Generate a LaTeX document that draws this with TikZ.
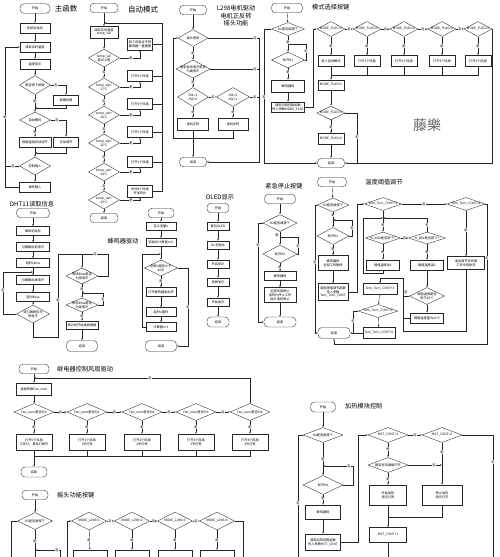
\documentclass[tikz,border=0pt]{standalone}
\usepackage{fontspec}
\setmainfont{Noto Sans CJK SC}
\usetikzlibrary{shapes.geometric,arrows.meta}
\newcommand\ft{\fontsize{3.2}{3.8}\selectfont}
\newcommand\Dmd[6]{\node[dia,minimum width=#4pt,minimum height=#5pt] (#1) at (#2,#3) {};\node[txt] (#1t) at (#1.center) {#6};}
\begin{document}
\begin{tikzpicture}[x=1pt,y=-1pt,
  nb/.style={draw=black!85, line width=0.35pt, fill=white, font=\ft, align=center, inner sep=0.4pt},
  term/.style={nb, rectangle, rounded corners=4pt, minimum width=#1, minimum height=9.5pt},
  term/.default=30pt,
  pbox/.style={nb, rectangle, minimum width=#1, minimum height=10pt},
  pbox/.default=30pt,
  dia/.style={nb, diamond, inner sep=0pt},
  txt/.style={font=\ft, align=center, inner sep=0pt},
  lab/.style={font=\ft, fill=white, inner sep=0.3pt},
  ar/.style={draw=black!85, line width=0.35pt, -{Latex[length=2pt,width=1.6pt]}},
  ln/.style={draw=black!85, line width=0.35pt},
  ttl/.style={font=\fontsize{6.2}{7.5}\selectfont, inner sep=0pt, align=center},
  bigttl/.style={font=\fontsize{7.5}{9}\selectfont, inner sep=0pt}]
\fill[white] (0,0) rectangle (500,557);
\useasboundingbox (0,0) rectangle (500,557);

% ================= 主函数 =================
\node[term=30pt] (m0) at (35,8.5) {开始};
\node[bigttl] (mT) at (66,9) {主函数};
\node[pbox=30pt] (m1) at (35,28) {系统初始化};
\node[pbox=30pt] (m2) at (35,47) {读取实时温度};
\node[pbox=30pt] (m3) at (35,64) {温度显示};
\Dmd{m4}{35}{85}{31}{19}{是否按下按键}
\node[pbox=25pt] (m5) at (66,100) {按键处理};
\Dmd{m6}{35}{120}{31}{16}{自动模式}
\node[pbox=32pt] (m7) at (35,142) {根据温度自动调节};
\node[pbox=25pt] (m8) at (66,142) {手动调节};
\Dmd{m9}{35}{166}{31}{18}{控制输入}
\node[pbox=31pt] (m10) at (35,187) {操作输入};
\coordinate (mj1) at (35,108);
\coordinate (mj2) at (35,153);
\draw[ar] (m0) -- (m1);
\draw[ar] (m1) -- (m2);
\draw[ar] (m2) -- (m3);
\draw[ar] (m3) -- (m4);
\draw[ar] (m4.east) -| (m5.north);
\draw[ar] (m4.south) -- (m6.north);
\draw[ar] (m5.south) |- (mj1);
\draw[ar] (m6.east) -| (m8.north);
\draw[ar] (m6.south) -- (m7.north);
\draw[ar] (m7.south) -- (m9.north);
\draw[ar] (m8.south) |- (mj2);
\draw[ar] (m9.south) -- (m10.north);
\draw[ln] (m9.west) -- (5,166);
\draw[ar] (m10.west) -| (5,47) -- (m2.west);
\node[lab] (q1) at (56,85) {否};
\node[lab] (q2) at (35,101) {是};
\node[lab] (q3) at (57,120) {否};
\node[lab] (q4) at (35,132.5) {是};
\node[lab] (q5) at (13,166) {否};
\node[lab] (q6) at (5,117) {是};

% ================= 自动模式 =================
\node[term=28pt] (a0) at (104,8) {开始};
\node[bigttl] (aT) at (143,10) {自动模式};
\node[pbox=28pt,minimum height=12pt] (a1) at (104,32) {读取实时温度\\temp\_val};
\Dmd{ad1}{104}{58}{31}{18}{temp\_val\\超过上限}
\Dmd{ad2}{104}{87}{31}{18}{temp\_val>\\27℃}
\Dmd{ad3}{104}{115}{31}{18}{temp\_val>\\26℃}
\Dmd{ad4}{104}{143}{31}{18}{temp\_val>\\25℃}
\Dmd{ad5}{104}{172}{31}{18}{temp\_val>\\24℃}
\Dmd{ad6}{104}{200}{31}{18}{temp\_val<\\23℃}
\node[term=28pt] (aE) at (104,218) {结束};
\node[pbox=25pt,minimum height=12pt] (ab1) at (140,44) {四个风扇全不转\\蜂鸣器一直报警};
\node[pbox=25pt,minimum height=11pt] (ab2) at (140,76) {打开4个风扇};
\node[pbox=25pt,minimum height=11pt] (ab3) at (140,104) {打开3个风扇};
\node[pbox=25pt,minimum height=11pt] (ab4) at (140,132) {打开2个风扇};
\node[pbox=25pt,minimum height=11pt] (ab5) at (140,162) {打开1个风扇};
\node[pbox=25pt,minimum height=12pt] (ab6) at (140,191) {关闭4个风扇\\开加热片};
\coordinate (aj) at (104,23);
\draw[ar] (a0) -- (a1);
\draw[ar] (a1) -- (ad1);
\draw[ar] (ad1) -- (ad2);
\draw[ar] (ad2) -- (ad3);
\draw[ar] (ad3) -- (ad4);
\draw[ar] (ad4) -- (ad5);
\draw[ar] (ad5) -- (ad6);
\draw[ar] (ad6) -- (aE);
\draw[ar] (ad1.east) -| (ab1.south);
\draw[ar] (ad2.east) -| (ab2.south);
\draw[ar] (ad3.east) -| (ab3.south);
\draw[ar] (ad4.east) -| (ab4.south);
\draw[ar] (ad5.east) -| (ab5.south);
\draw[ar] (ad6.east) -| (ab6.south);
\draw[ln] (ab1.east) -- (162,44);
\draw[ln] (ab2.east) -- (162,76);
\draw[ln] (ab3.east) -- (162,104);
\draw[ln] (ab4.east) -- (162,132);
\draw[ln] (ab5.east) -- (162,162);
\draw[ar] (ab6.east) -| (162,23) -- (aj);
\foreach \yy/\nm in {58/a,87/b,115/c,143/d,172/e,200/f} {\node[lab] (qa\nm) at (131,\yy) {是};}
\foreach \yy/\nm in {72.5/a,101/b,129/c,157.5/d,186/e} {\node[lab] (qb\nm) at (104,\yy) {否};}

% ================= L298 =================
\node[term=27pt] (l0) at (193,10) {开始};
\node[ttl] (lT) at (236,16) {L298电机驱动\\电机正反转\\摇头功能};
\Dmd{ld1}{193}{38}{30}{17}{摇头使用}
\Dmd{ld2}{193}{69}{34}{18}{电机驱动电平是否\\为高电平}
\Dmd{ld3}{193}{97}{31}{19}{IN1=1\\IN2=0}
\Dmd{ld4}{233}{97}{33}{19}{IN1=0\\IN2=1}
\node[pbox=31pt,minimum height=12pt] (lb1) at (193,124) {电机正转};
\node[pbox=30pt,minimum height=12pt] (lb2) at (233,124) {电机反转};
\node[term=27pt] (lE) at (193,162) {结束};
\draw[ar] (l0) -- (ld1);
\draw[ar] (ld1) -- (ld2);
\draw[ar] (ld2) -- (ld3);
\draw[ar] (ld3) -- (ld4);
\draw[ar] (ld3) -- (lb1);
\draw[ar] (ld4) -- (lb2);
\draw[ar] (lb1) -- (lE);
\draw[ln] (ld2.east) -- (259,69);
\draw[ln] (ld4.east) -- (259,97);
\draw[ar] (ld1.east) -| (259,162) -- (lE.east);
\draw[ar] (lb2.south) |- (173,138) |- (ld1.west);
\node[lab] (ql1) at (193,53) {是};
\node[lab] (ql2) at (193,82) {是};
\node[lab] (ql3) at (213,97) {否};
\node[lab] (ql4) at (193,112) {是};
\node[lab] (ql5) at (233,112) {是};
\node[lab] (ql6) at (255,38) {否};
\node[lab] (ql7) at (255,69) {否};
\node[lab] (ql8) at (255,97) {否};

% ================= 模式选择按键 =================
\node[term=31pt] (s0) at (287,8) {开始};
\node[ttl,anchor=west] (sT) at (312,7) {模式选择按键};
\Dmd{sd1}{288}{29}{33}{13}{K1是否被按下}
\Dmd{sd2}{288}{60}{33}{16}{松开K1}
\node[pbox=33pt,minimum height=12pt] (sb1) at (288,86) {蜂鸣器响};
\node[pbox=33pt,minimum height=10pt] (sb2) at (288,107) {调用风扇控制函数\\传入参数MODE\_FLAG};
\Dmd{sr0}{331}{29}{28}{15}{MODE\_FLAG=0}
\Dmd{sr1}{367}{29}{28}{15}{MODE\_FLAG=1}
\Dmd{sr2}{404}{29}{28}{15}{MODE\_FLAG=2}
\Dmd{sr3}{442}{29}{28}{15}{MODE\_FLAG=3}
\Dmd{sr4}{478}{29}{28}{15}{MODE\_FLAG=4}
\node[pbox=26pt,minimum height=11pt] (sq0) at (331,61) {进入自动模式};
\node[pbox=26pt,minimum height=11pt] (sq1) at (367,61) {打开1个风扇};
\node[pbox=26pt,minimum height=11pt] (sq2) at (404,61) {打开2个风扇};
\node[pbox=26pt,minimum height=11pt] (sq3) at (442,61) {打开3个风扇};
\node[pbox=26pt,minimum height=11pt] (sq4) at (478,61) {打开4个风扇};
\node[pbox=26pt,minimum height=10pt] (sb3) at (331,85) {MODE\_FLAG+1};
\Dmd{sd3}{331}{113}{28}{14}{MODE\_FLAG>4}
\node[pbox=26pt,minimum height=11pt] (sb4) at (331,139) {MODE\_FLAG=0};
\node[term=27pt] (sE) at (331,163) {结束};
\node[font=\fontsize{14}{16}\selectfont, text=black!60, inner sep=0pt] (wm) at (427,125) {藤樂};
\draw[ar] (s0) -- (sd1);
\draw[ar] (sd1) -- (sd2);
\draw[ar] (sd2.east) -- (306,60) -- (306,44) -- (288,44);
\draw[ar] (sd2) -- (sb1);
\draw[ar] (sb1) -- (sb2);
\draw[ar] (sb2.east) -| (313,29) -- (sr0.west);
\draw[ar] (sr0) -- (sr1);
\draw[ar] (sr1) -- (sr2);
\draw[ar] (sr2) -- (sr3);
\draw[ar] (sr3) -- (sr4);
\draw[ar] (sr0) -- (sq0);
\draw[ar] (sr1) -- (sq1);
\draw[ar] (sr2) -- (sq2);
\draw[ar] (sr3) -- (sq3);
\draw[ar] (sr4) -- (sq4);
\draw[ar] (sq0) -- (sb3);
\draw[ln] (sq1.south) -- (367,75);
\draw[ln] (sq2.south) -- (404,75);
\draw[ln] (sq3.south) -- (442,75);
\draw[ln] (sq4.south) |- (331,75);
\draw[ar] (sb3) -- (sd3);
\draw[ar] (sd3) -- (sb4);
\draw[ar] (sb4) -- (sE);
\draw[ln] (sd3.east) -| (357,163);
\draw[ar] (sr4.east) -| (492,163) -- (sE.east);
\draw[ar] (sd1.west) -| (264,163) -- (sE.west);
\node[lab] (qs1) at (288,42) {是};
\node[lab] (qs2) at (306,51) {否};
\node[lab] (qs3) at (288,72) {是};
\node[lab] (qs4) at (264,97) {否};
\node[lab] (qs5) at (349,29) {否};
\node[lab] (qs6) at (385.5,29) {否};
\node[lab] (qs7) at (423,29) {否};
\node[lab] (qs8) at (460,29) {否};
\foreach \xx/\nm in {331/a,367/b,404/c,442/d,478/e} {\node[lab] (qt\nm) at (\xx,46) {是};}
\node[lab] (qs9) at (331,127) {是};
\node[lab] (qs10) at (357,137) {否};

% ================= DHT11 =================
\node[ttl] (dT) at (32,204) {DHT11读取信息};
\node[term=33pt] (d0) at (33,213) {开始};
\node[pbox=33pt,minimum height=9pt] (d1) at (33,231) {模块初始化};
\node[pbox=33pt,minimum height=9pt] (d2) at (33,247) {引脚输出低电平};
\node[pbox=33pt,minimum height=9pt] (d3) at (33,263) {延时18ms};
\node[pbox=33pt,minimum height=9pt] (d4) at (33,280) {引脚输出高电平};
\node[pbox=33pt,minimum height=9pt] (d5) at (33,297) {延时40us};
\Dmd{dd1}{33}{314}{33}{18}{读引脚是否为\\低电平}
\Dmd{dd2}{82}{276}{32}{16}{等待80us是否\\为低电平}
\Dmd{dd3}{82}{305}{32}{14}{等待80us是否\\为高电平}
\node[pbox=32pt,minimum height=8pt] (d6) at (82,325) {单片机开始接收数据};
\node[term=31pt,minimum height=11pt] (dE) at (82,346) {结束};
\coordinate (dj1) at (33,272);
\coordinate (dj2) at (82,254);
\coordinate (dj3) at (82,293);
\draw[ar] (d0) -- (d1);
\draw[ar] (d1) -- (d2);
\draw[ar] (d2) -- (d3);
\draw[ar] (d3) -- (d4);
\draw[ar] (d4) -- (d5);
\draw[ar] (d5) -- (dd1);
\draw[ar] (dd1.west) -| (3,272) -- (dj1);
\draw[ln] (dd1.south) |- (58,337) -- (58,254) -- (dj2);
\draw[ln] (dd2.east) -| (108,254) -- (dj2);
\draw[ar] (dj2) -- (dd2.north);
\draw[ar] (dd2) -- (dd3);
\draw[ar] (dd3.east) -| (103,293) -- (dj3);
\draw[ar] (dd3) -- (d6);
\draw[ar] (d6) -- (dE);
\node[lab] (qd1) at (3,290) {否};
\node[lab] (qd2) at (58,300) {是};
\node[lab] (qd3) at (95,254) {否};
\node[lab] (qd4) at (82,289) {是};
\node[lab] (qd5) at (103,299) {否};
\node[lab] (qd6) at (82,316) {是};

% ================= 蜂鸣器驱动 =================
\node[ttl] (bT) at (123,241) {蜂鸣器驱动};
\node[term=26pt] (b0) at (161,213) {开始};
\node[pbox=30pt,minimum height=8pt] (b1) at (161,226) {定义变量n};
\node[pbox=30pt,minimum height=8pt] (b2) at (161,242) {初始化计数值n=0};
\Dmd{bd1}{161}{268}{33}{16}{判断n是否小于\\20次}
\node[pbox=30pt,minimum height=9pt] (b3) at (161,292) {打开蜂鸣器发出声};
\node[pbox=30pt,minimum height=9pt] (b4) at (161,312) {延时1毫秒};
\node[pbox=30pt,minimum height=9pt] (b5) at (161,327) {计数器n+1};
\node[term=31pt,minimum height=11pt] (bE) at (161,346) {结束};
\coordinate (bj) at (161,254);
\draw[ar] (b0) -- (b1);
\draw[ar] (b1) -- (b2);
\draw[ar] (b2) -- (bd1);
\draw[ar] (bd1) -- (b3);
\draw[ar] (b3) -- (b4);
\draw[ar] (b4) -- (b5);
\draw[ar] (b5.west) -| (142,254) -- (bj);
\draw[ar] (bd1.east) -| (188,346) -- (bE.east);
\node[lab] (qb1) at (161,281) {是};
\node[lab] (qb2) at (188,307) {否};

% ================= OLED显示 =================
\node[ttl] (oT) at (220,197) {OLED显示};
\node[term=22pt] (o0) at (218,208) {开始};
\node[pbox=22pt,minimum height=8pt] (o1) at (218,226) {复位OLED};
\node[pbox=22pt,minimum height=8pt] (o2) at (218,245) {I2C初始化};
\node[pbox=22pt,minimum height=8pt] (o3) at (218,264) {开启显示};
\node[pbox=22pt,minimum height=8pt] (o4) at (218,282) {清屏显示};
\node[pbox=22pt,minimum height=8pt] (o5) at (218,302) {开始显示};
\node[term=22pt,minimum height=10pt] (oE) at (218,322) {结束};
\draw[ar] (o0) -- (o1);
\draw[ar] (o1) -- (o2);
\draw[ar] (o2) -- (o3);
\draw[ar] (o3) -- (o4);
\draw[ar] (o4) -- (o5);
\draw[ar] (o5) -- (oE);

% ================= 紧急停止按键 =================
\node[ttl] (eT) at (284,186) {紧急停止按键};
\node[term=31pt] (e0) at (280,199) {开始};
\Dmd{ed1}{280}{223}{34}{17}{K2是否被按下}
\Dmd{ed2}{280}{254}{34}{18}{松开K2}
\node[pbox=32pt,minimum height=9pt] (eb1) at (280,276) {蜂鸣器响};
\node[pbox=32pt,minimum height=15pt] (eb2) at (280,295) {全部风扇停止\\加热片停止工作\\摇头电机停止};
\node[term=32pt,minimum height=10pt] (eE) at (280,322) {结束};
\coordinate (ej) at (280,237.5);
\draw[ar] (e0) -- (ed1);
\draw[ar] (ed1) -- (ed2);
\draw[ar] (ed2.east) -| (298,237.5) -- (ej);
\draw[ar] (ed2) -- (eb1);
\draw[ar] (eb1) -- (eb2);
\draw[ar] (eb2) -- (eE);
\draw[ar] (ed1.west) -| (258,322) -- (eE.west);
\node[lab] (qe1) at (277,235) {是};
\node[lab] (qe2) at (298,246) {否};
\node[lab] (qe3) at (280,267.5) {是};
\node[lab] (qe4) at (258,245) {否};

% ================= 温度阈值调节 =================
\node[term=29pt] (t0) at (332,182) {开始};
\node[ttl] (tT) at (384,182) {温度阈值调节};
\Dmd{td1}{333}{205}{32}{14}{K3是否被按下}
\Dmd{td2}{333}{236}{32}{17}{松开K3}
\node[pbox=30pt,minimum height=15pt] (tb1) at (333,263) {蜂鸣器响\\全部工作暂停};
\node[pbox=30pt,minimum height=17pt] (tb2) at (333,292) {调用阈值调节函数\\传入参数\\Tem\_Turn\_CONT};
\node[term=32pt,minimum height=11pt] (tE) at (334,333) {结束};
\Dmd{tr1}{383}{204}{37}{13}{Tem\_Turn\_CONT=1}
\Dmd{tr2}{466}{204}{38}{13}{Tem\_Turn\_CONT=2}
\Dmd{tk1}{383}{238}{35}{12}{K\_ADD是否按下?}
\Dmd{tk2}{427}{238}{37}{12}{K\_DEL是否按下?}
\node[pbox=33pt] (tb3) at (383,265) {阈值温度加1};
\node[pbox=33pt] (tb4) at (427,265) {阈值温度减1};
\Dmd{tdd}{427}{296}{35}{17}{阈值温度是否\\低于20℃}
\node[pbox=33pt] (tb5) at (427,318) {阈值温度置为20℃};
\node[pbox=37pt,minimum height=13pt] (tb6) at (466,263) {退出调节并恢复\\工作中的状态};
\node[pbox=34pt,minimum height=11pt] (tb7) at (380,289) {Tem\_Turn\_CONT+1};
\Dmd{tdd3}{378}{311}{40}{13}{Tem\_Turn\_CONT>2}
\node[pbox=32pt,minimum height=11pt] (tb8) at (379,333) {Tem\_Turn\_CONT=0};
\coordinate (tj1) at (333,220);
\coordinate (tj2) at (383,218);
\draw[ar] (t0) -- (td1);
\draw[ar] (td1) -- (td2);
\draw[ar] (td2.east) -| (352,220) -- (tj1);
\draw[ar] (td2) -- (tb1);
\draw[ar] (tb1) -- (tb2);
\draw[ar] (td1.west) -| (315,333) -- (tE.west);
\draw[ar] (tb2.east) -| (357,204) -- (tr1.west);
\draw[ar] (tr1) -- (tr2);
\draw[ar] (tr2.east) -| (487,344) -| (tE.south);
\draw[ar] (tr1) -- (tk1);
\draw[ar] (tk1) -- (tk2);
\draw[ar] (tk2.north) |- (tj2);
\draw[ar] (tk1) -- (tb3);
\draw[ar] (tb3.south) -- (383,273) -| (363,218) -- (tj2);
\draw[ar] (tk2) -- (tb4);
\draw[ar] (tb4) -- (tdd);
\draw[ar] (tdd) -- (tb5);
\draw[ln] (tdd.west) -- (403,296);
\draw[ln] (tb5.west) -- (403,318);
\draw[ar] (tr2) -- (tb6);
\draw[ar] (tb6.south) |- (403,331) -- (403,278) -| (tb7.north);
\draw[ar] (tb7) -- (tdd3);
\draw[ar] (tdd3) -- (tb8);
\draw[ar] (tb8.west) -- (tE.east);
\draw[ln] (tdd3.west) -| (353,333);
\node[lab] (qt1) at (333,215.5) {是};
\node[lab] (qt2) at (352,228) {否};
\node[lab] (qt3) at (333,249.5) {是};
\node[lab] (qt4) at (315,262) {否};
\node[lab] (qt5) at (424,204) {否};
\node[lab] (qt6) at (487,258) {否};
\node[lab] (qt7) at (383,225) {是};
\node[lab] (qt8) at (404.5,238) {否};
\node[lab] (qt9) at (427,225) {否};
\node[lab] (qt10) at (383,252.5) {是};
\node[lab] (qt11) at (427,252.5) {是};
\node[lab] (qt12) at (406,292) {否};
\node[lab] (qt13) at (466,230) {是};
\node[lab] (qt14) at (353,321) {否};

% ================= 继电器控制风扇驱动 =================
\node[term=30pt] (r0) at (34,369) {开始};
\node[ttl,anchor=west] (rT) at (57,369) {继电器控制风扇驱动};
\node[pbox=35pt,minimum height=12pt] (r1) at (34,389) {接收参数Fan\_num};
\Dmd{rd0}{34}{412}{40}{17}{Fan\_num是否为0}
\Dmd{rd1}{87}{412}{40}{17}{Fan\_num是否为1}
\Dmd{rd2}{142}{412}{40}{17}{Fan\_num是否为2}
\Dmd{rd3}{196}{412}{40}{17}{Fan\_num是否为3}
\Dmd{rd4}{250}{412}{40}{17}{Fan\_num是否为4}
\node[pbox=36pt,minimum height=16pt] (rb0) at (34,442) {打开0个风扇\\工作灯、其余灯熄灭};
\node[pbox=36pt,minimum height=16pt] (rb1) at (87,442) {打开1个风扇\\1号灯亮};
\node[pbox=36pt,minimum height=16pt] (rb2) at (142,442) {打开2个风扇\\2号灯亮};
\node[pbox=36pt,minimum height=16pt] (rb3) at (196,442) {打开3个风扇\\3号灯亮};
\node[pbox=36pt,minimum height=16pt] (rb4) at (250,442) {打开4个风扇\\4号灯亮};
\node[term=26pt,minimum height=10pt] (rE) at (34,472) {结束};
\coordinate (rj) at (34,378);
\draw[ar] (r0) -- (r1);
\draw[ar] (r1) -- (rd0);
\draw[ar] (rd0) -- (rd1);
\draw[ar] (rd1) -- (rd2);
\draw[ar] (rd2) -- (rd3);
\draw[ar] (rd3) -- (rd4);
\draw[ar] (rd4.north) |- (rj);
\draw[ar] (rd0) -- (rb0);
\draw[ar] (rd1) -- (rb1);
\draw[ar] (rd2) -- (rb2);
\draw[ar] (rd3) -- (rb3);
\draw[ar] (rd4) -- (rb4);
\draw[ar] (rb0) -- (rE);
\draw[ln] (rb1.south) -- (87,456);
\draw[ln] (rb2.south) -- (142,456);
\draw[ln] (rb3.south) -- (196,456);
\draw[ln] (rb4.south) |- (34,456);
\node[lab] (qr1) at (60.5,412) {否};
\node[lab] (qr2) at (114.5,412) {否};
\node[lab] (qr3) at (169,412) {否};
\node[lab] (qr4) at (223,412) {否};
\node[lab] (qr5) at (150,378) {否};
\foreach \xx/\nm in {34/a,87/b,142/c,196/d,250/e} {\node[lab] (qr\nm) at (\xx,427) {是};}

% ================= 摇头功能按键 =================
\node[term=26pt] (y0) at (35,495) {开始};
\node[ttl,anchor=west] (yT) at (57,495) {摇头功能按键};
\Dmd{yd1}{35}{521}{35}{17}{K5是否被按下}
\Dmd{yr1}{89}{521}{35}{18}{MODE\_L298=1}
\Dmd{yr2}{132}{521}{35}{18}{MODE\_L298=2}
\Dmd{yr3}{175}{521}{35}{18}{MODE\_L298=3}
\Dmd{yr4}{217}{521}{35}{18}{MODE\_L298=4}
\node[pbox=34pt,minimum height=12pt] (yb1) at (90,556) {};
\node[pbox=34pt,minimum height=12pt] (yb2) at (132,556) {};
\node[pbox=34pt,minimum height=12pt] (yb3) at (175,556) {};
\node[pbox=34pt,minimum height=12pt] (yb4) at (217,556) {};
\coordinate (yj) at (35,550);
\draw[ar] (y0) -- (yd1);
\draw[ln] (yd1.south) -- (35,557);
\draw[ar] (60,557) -- (60,550) -- (yj);
\draw[ln] (yd1.west) -| (11,557);
\draw[ar] (67,557) |- (yr1.west);
\draw[ar] (yr1) -- (yr2);
\draw[ar] (yr2) -- (yr3);
\draw[ar] (yr3) -- (yr4);
\draw[ln] (yr4.east) -| (243,557);
\draw[ar] (yr1) -- (yb1);
\draw[ar] (yr2) -- (yb2);
\draw[ar] (yr3) -- (yb3);
\draw[ar] (yr4) -- (yb4);
\node[lab] (qy1) at (35,541) {是};
\node[lab] (qy2) at (57,550) {否};
\node[lab] (qy3) at (110,521) {否};
\node[lab] (qy4) at (153.5,521) {否};
\node[lab] (qy5) at (196,521) {否};
\foreach \xx/\nm in {89/a,132/b,175/c,217/d} {\node[lab] (qy\nm) at (\xx,540) {是};}

% ================= 加热模块控制 =================
\node[term=25pt,minimum height=10pt] (h0) at (323,407) {开始};
\node[ttl,anchor=west] (hT) at (345,406) {加热模块控制};
\Dmd{hd1}{323}{435}{40}{15}{K4是否被按下}
\Dmd{hd2}{323}{485}{40}{19}{松开K4}
\node[pbox=35pt,minimum height=14pt] (hb1) at (323,512) {蜂鸣器响};
\node[pbox=35pt,minimum height=16pt] (hb2) at (323,542) {调用加热控制函数\\传入参数HOT\_CONT};
\Dmd{hr1}{388}{435}{40}{15}{HOT\_CONT=1}
\Dmd{hr2}{442}{435}{40}{15}{HOT\_CONT=2}
\Dmd{hd3}{388}{465}{40}{15}{是否有风扇被打开}
\node[pbox=37pt,minimum height=20pt] (hb3) at (388,495) {开始加热\\指示灯亮};
\node[pbox=40pt,minimum height=20pt] (hb4) at (442,495) {停止加热\\指示灯灭};
\node[pbox=37pt,minimum height=15pt] (hb5) at (388,535) {HOT\_CONT+1};
\coordinate (hj1) at (323,466);
\coordinate (hj2) at (388,517);
\draw[ar] (h0) -- (hd1);
\draw[ar] (hd1) -- (hd2);
\draw[ar] (hd2.east) -| (353,466) -- (hj1);
\draw[ar] (hd2) -- (hb1);
\draw[ar] (hb1) -- (hb2);
\draw[ln] (hd1.west) -| (298,557);
\draw[ar] (hb2.east) -| (358,435) -- (hr1.west);
\draw[ar] (hr1) -- (hr2);
\draw[ln] (hr2.east) -| (493,557);
\draw[ar] (hr1) -- (hd3);
\draw[ar] (hd3) -- (hb3);
\draw[ar] (hd3.east) -- (442,465);
\draw[ar] (hr2) -- (hb4);
\draw[ln] (hb4.south) |- (hj2);
\draw[ar] (hb3) -- (hb5);
\draw[ln] (hb5.south) -- (388,557);
\node[lab] (qh1) at (298,503) {否};
\node[lab] (qh2) at (323,459) {是};
\node[lab] (qh3) at (349,466) {否};
\node[lab] (qh4) at (323,498.5) {是};
\node[lab] (qh5) at (415,435) {否};
\node[lab] (qh6) at (493,462) {否};
\node[lab] (qh7) at (388,449) {是};
\node[lab] (qh8) at (434,465) {否};
\node[lab] (qh9) at (442,452) {是};
\node[lab] (qh10) at (388,479) {是};
\end{tikzpicture}
\end{document}
